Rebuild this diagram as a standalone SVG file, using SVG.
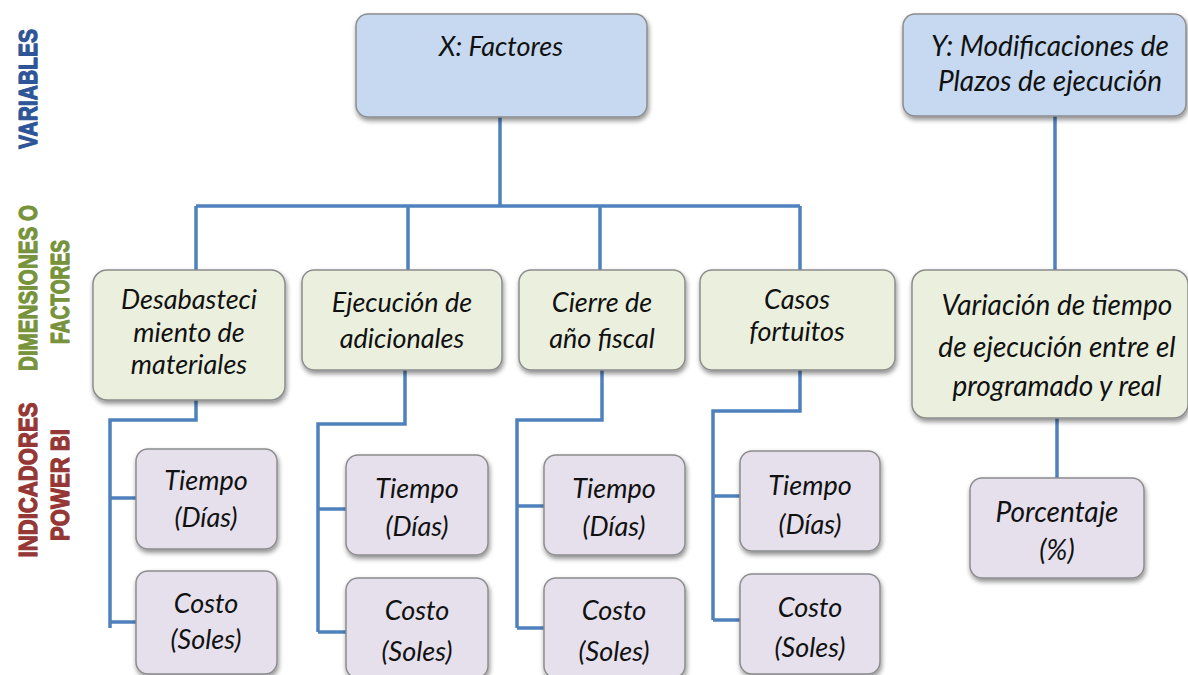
<svg xmlns="http://www.w3.org/2000/svg" width="1188" height="675" viewBox="0 0 1188 675">
<defs>
<filter id="sh" x="-10%" y="-10%" width="125%" height="130%">
<feGaussianBlur in="SourceAlpha" stdDeviation="2.5"/>
<feOffset dx="1" dy="3"/>
<feComponentTransfer><feFuncA type="linear" slope="0.45"/></feComponentTransfer>
<feMerge><feMergeNode/><feMergeNode in="SourceGraphic"/></feMerge>
</filter>
</defs>
<style>
.b{stroke:#8c8c8c;stroke-width:1.5;filter:url(#sh)}
.v{fill:#c6d9f0}
.d{fill:#ebf0de}
.i{fill:#e5e0ec}
text{font-family:Lato,"Open Sans","Liberation Sans",sans-serif;font-style:italic;font-size:27px;fill:#111;text-anchor:middle}
.w{font-size:28px}
text.lab{font-family:"Liberation Sans",Arial,sans-serif;font-style:normal;font-weight:700;font-size:26px;text-anchor:middle;stroke-width:1.2;stroke-linejoin:round}
.c{fill:none;stroke:#4f81bd;stroke-width:3.5}
</style>
<rect width="1188" height="675" fill="#fff"/>
<g id="labels">
<text class="lab" transform="translate(37,89) rotate(-90)" style="fill:#2e5597;stroke:#2e5597" textLength="120" lengthAdjust="spacingAndGlyphs">VARIABLES</text>
<text class="lab" transform="translate(37,288) rotate(-90)" style="fill:#77933c;stroke:#77933c" textLength="166" lengthAdjust="spacingAndGlyphs">DIMENSIONES O</text>
<text class="lab" transform="translate(69,292) rotate(-90)" style="fill:#77933c;stroke:#77933c" textLength="104" lengthAdjust="spacingAndGlyphs">FACTORES</text>
<text class="lab" transform="translate(37,480) rotate(-90)" style="fill:#953735;stroke:#953735" textLength="155" lengthAdjust="spacingAndGlyphs">INDICADORES</text>
<text class="lab" transform="translate(69,485) rotate(-90)" style="fill:#953735;stroke:#953735" textLength="112" lengthAdjust="spacingAndGlyphs">POWER BI</text>
</g>
<g id="connectors">
<path class="c" d="M500,117 V206 M196,206 H800 M196,206 V270 M408,206 V270 M600,206 V270 M800,206 V270"/>
<path class="c" d="M1055,116 V270"/>
<path class="c" d="M196,400 V420 H110 V628 M110,498 H136 M110,622 H136"/>
<path class="c" d="M405,370 V424 H318 V632 M318,509 H346 M318,632 H346"/>
<path class="c" d="M602,370 V420 H517 V628 M517,506 H544 M517,628 H544"/>
<path class="c" d="M800,370 V411 H713 V620 M713,496 H740 M713,620 H740"/>
<path class="c" d="M1057,418 V478"/>
</g>
<g id="x-factores"><rect class="b v" x="356" y="14" width="291" height="103" rx="12"/><text x="501" y="56">X: Factores</text></g>
<g id="y-modificaciones"><rect class="b v" x="903" y="14" width="283" height="102" rx="12"/><text class="w" x="1050" y="56">Y: Modificaciones de</text><text class="w" x="1050" y="91">Plazos de ejecución</text></g>
<g id="desabastecimiento"><rect class="b d" x="93" y="270" width="192" height="130" rx="14"/><text x="189" y="309">Desabasteci</text><text x="189" y="342">miento de</text><text x="189" y="374">materiales</text></g>
<g id="ejecucion"><rect class="b d" x="302" y="270" width="200" height="100" rx="12"/><text x="402" y="312">Ejecución de</text><text x="402" y="348">adicionales</text></g>
<g id="cierre"><rect class="b d" x="519" y="270" width="166" height="100" rx="12"/><text x="602" y="312">Cierre de</text><text x="602" y="348">año fiscal</text></g>
<g id="casos"><rect class="b d" x="700" y="270" width="195" height="100" rx="12"/><text x="797" y="309">Casos</text><text x="797" y="341">fortuitos</text></g>
<g id="variacion"><rect class="b d" x="912" y="270" width="276" height="148" rx="14"/><text class="w" x="1057" y="315">Variación de tiempo</text><text class="w" x="1057" y="357">de ejecución entre el</text><text class="w" x="1057" y="396">programado y real</text></g>
<g id="tiempo1"><rect class="b i" x="136" y="449" width="141" height="100" rx="12"/><text x="206" y="490">Tiempo</text><text x="206" y="527">(Días)</text></g>
<g id="costo1"><rect class="b i" x="136" y="571" width="141" height="103" rx="12"/><text x="206" y="613">Costo</text><text x="206" y="649">(Soles)</text></g>
<g id="tiempo2"><rect class="b i" x="346" y="455" width="142" height="100" rx="12"/><text x="417" y="498">Tiempo</text><text x="417" y="536">(Días)</text></g>
<g id="costo2"><rect class="b i" x="346" y="578" width="142" height="100" rx="12"/><text x="417" y="620">Costo</text><text x="417" y="661">(Soles)</text></g>
<g id="tiempo3"><rect class="b i" x="544" y="455" width="141" height="100" rx="12"/><text x="614" y="498">Tiempo</text><text x="614" y="536">(Días)</text></g>
<g id="costo3"><rect class="b i" x="544" y="578" width="141" height="100" rx="12"/><text x="614" y="620">Costo</text><text x="614" y="661">(Soles)</text></g>
<g id="tiempo4"><rect class="b i" x="740" y="451" width="140" height="100" rx="12"/><text x="810" y="495">Tiempo</text><text x="810" y="534">(Días)</text></g>
<g id="costo4"><rect class="b i" x="740" y="574" width="140" height="100" rx="12"/><text x="810" y="617">Costo</text><text x="810" y="657">(Soles)</text></g>
<g id="porcentaje"><rect class="b i" x="970" y="478" width="174" height="100" rx="12"/><text class="w" x="1057" y="522">Porcentaje</text><text class="w" x="1057" y="560">(%)</text></g>
</svg>
